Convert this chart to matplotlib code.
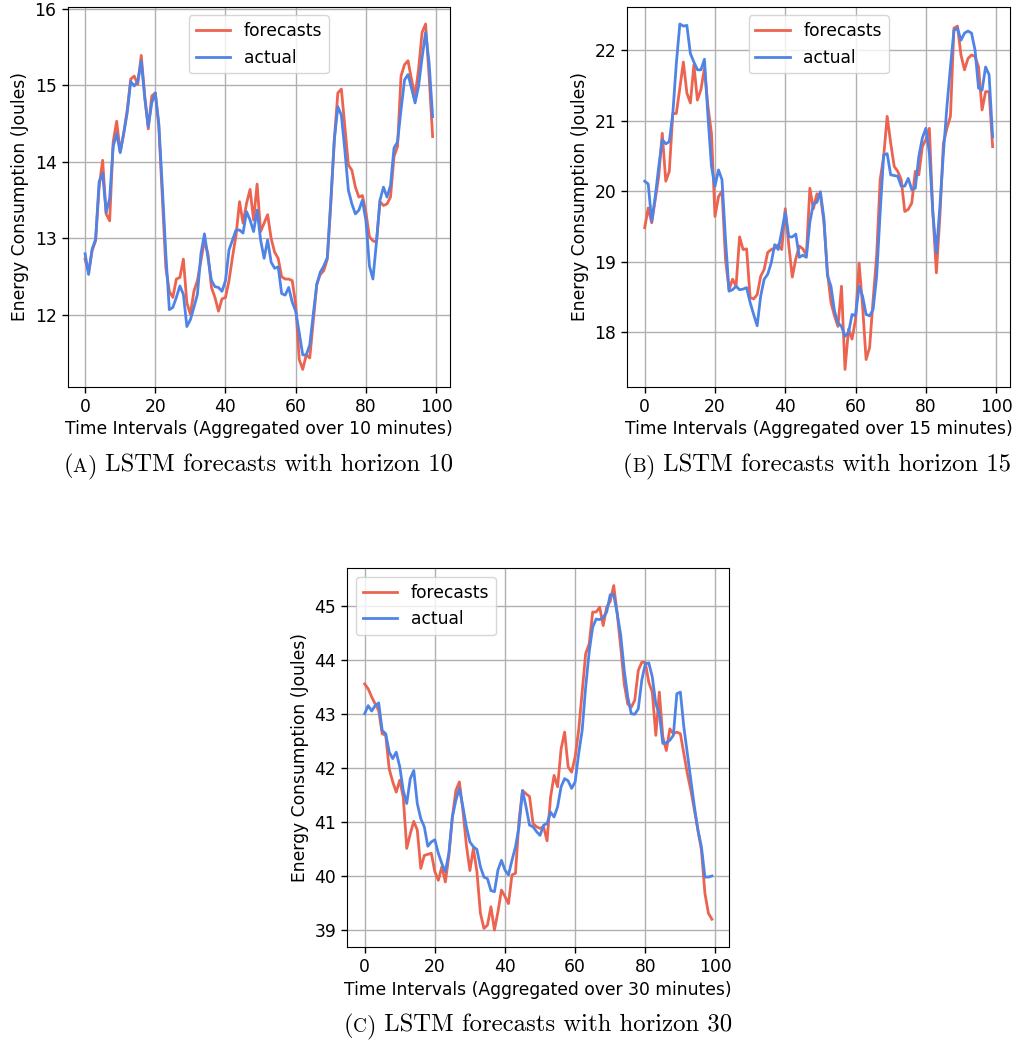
import numpy as np
import matplotlib
matplotlib.use("Agg")
import matplotlib.pyplot as plt

# forecasts vs actual energy use, 100 aggregated intervals per horizon
steps = np.arange(100)

fc_10 = [12.73, 12.56, 12.84, 12.97, 13.67, 14.02, 13.32, 13.23, 14.26, 14.53,
         14.13, 14.37, 14.68, 15.08, 15.12, 15.01, 15.39, 14.86, 14.43, 14.86,
         14.90, 14.46, 13.54, 12.62, 12.31, 12.23, 12.47, 12.49, 12.73, 12.16,
         12.01, 12.31, 12.45, 12.71, 12.97, 12.80, 12.36, 12.23, 12.05, 12.21,
         12.23, 12.45, 12.76, 13.04, 13.48, 13.20, 13.46, 13.64, 13.24, 13.71,
         13.09, 13.20, 13.31, 13.00, 12.82, 12.74, 12.50, 12.47, 12.47, 12.45,
         12.14, 11.42, 11.29, 11.48, 11.44, 11.92, 12.40, 12.53, 12.58, 12.73,
         13.45, 14.29, 14.90, 14.95, 14.46, 13.96, 13.89, 13.67, 13.54, 13.56,
         13.34, 13.02, 12.97, 12.95, 13.48, 13.43, 13.45, 13.54, 14.07, 14.20,
         15.12, 15.27, 15.32, 15.07, 14.86, 15.21, 15.69, 15.80, 15.12, 14.33]
act_10 = [12.80, 12.53, 12.86, 12.99, 13.74, 13.85, 13.34, 13.52, 14.20, 14.37,
          14.12, 14.37, 14.64, 15.05, 14.99, 15.05, 15.32, 14.83, 14.46, 14.77,
          14.90, 14.50, 13.67, 12.80, 12.07, 12.10, 12.23, 12.38, 12.27, 11.85,
          11.94, 12.10, 12.27, 12.80, 13.06, 12.75, 12.45, 12.37, 12.36, 12.31,
          12.45, 12.85, 12.98, 13.11, 13.11, 13.07, 13.35, 13.24, 13.09, 13.37,
          12.98, 12.74, 12.98, 12.69, 12.61, 12.63, 12.28, 12.26, 12.36, 12.17,
          12.05, 11.77, 11.48, 11.48, 11.61, 12.01, 12.40, 12.56, 12.64, 12.75,
          13.50, 14.29, 14.72, 14.61, 14.15, 13.63, 13.45, 13.32, 13.37, 13.50,
          13.23, 12.64, 12.47, 12.95, 13.50, 13.67, 13.54, 13.69, 14.18, 14.26,
          14.68, 15.07, 15.14, 14.96, 14.77, 14.99, 15.36, 15.69, 15.29, 14.59]

fc_15 = [19.48, 19.76, 19.55, 19.88, 20.21, 20.82, 20.14, 20.28, 21.10, 21.10,
         21.46, 21.83, 21.39, 21.25, 21.79, 21.29, 21.44, 21.74, 21.20, 20.82,
         19.64, 19.92, 20.00, 19.03, 18.60, 18.75, 18.65, 19.35, 19.17, 19.18,
         18.49, 18.47, 18.53, 18.79, 18.89, 19.13, 19.17, 19.19, 19.24, 19.17,
         19.75, 19.23, 18.78, 19.04, 19.22, 19.18, 19.09, 20.04, 19.75, 19.96,
         19.94, 19.56, 18.85, 18.42, 18.23, 18.08, 18.65, 17.47, 18.04, 17.90,
         18.18, 18.98, 18.37, 17.61, 17.78, 18.46, 19.08, 20.16, 20.49, 21.06,
         20.68, 20.35, 20.28, 20.16, 19.71, 19.74, 19.83, 20.28, 20.23, 20.63,
         20.73, 20.89, 19.69, 18.84, 19.64, 20.68, 20.89, 21.06, 22.31, 22.34,
         21.93, 21.72, 21.88, 21.93, 21.91, 21.76, 21.15, 21.41, 21.41, 20.63]
act_15 = [20.14, 20.10, 19.57, 19.92, 20.35, 20.73, 20.67, 20.70, 21.10, 21.81,
          22.37, 22.34, 22.35, 21.95, 21.83, 21.72, 21.72, 21.87, 21.06, 20.35,
          20.07, 20.30, 20.16, 19.31, 18.58, 18.60, 18.65, 18.60, 18.61, 18.63,
          18.42, 18.25, 18.09, 18.51, 18.75, 18.82, 18.98, 19.24, 19.17, 19.43,
          19.70, 19.35, 19.35, 19.39, 19.06, 19.09, 19.06, 19.56, 19.82, 19.84,
          19.99, 19.61, 18.80, 18.65, 18.30, 18.13, 18.08, 17.94, 17.99, 18.25,
          18.23, 18.65, 18.51, 18.25, 18.23, 18.32, 18.79, 19.69, 20.51, 20.53,
          20.23, 20.22, 20.21, 20.07, 20.07, 20.18, 20.02, 20.04, 20.49, 20.75,
          20.89, 20.54, 19.69, 19.12, 19.78, 20.54, 21.20, 21.76, 22.28, 22.31,
          22.14, 22.24, 22.27, 22.24, 22.00, 21.46, 21.43, 21.76, 21.65, 20.77]

fc_30 = [43.55, 43.46, 43.31, 43.18, 43.06, 42.63, 42.60, 41.98, 41.74, 41.55,
         41.77, 41.46, 40.51, 40.78, 41.01, 40.85, 40.14, 40.38, 40.40, 40.42,
         40.08, 39.92, 40.17, 39.89, 40.37, 41.09, 41.58, 41.74, 41.22, 40.57,
         40.10, 40.51, 40.08, 39.31, 39.03, 39.09, 39.43, 39.00, 39.34, 39.74,
         39.62, 39.49, 40.02, 40.05, 41.03, 41.58, 41.52, 41.47, 40.97, 40.91,
         40.88, 40.91, 40.65, 41.46, 41.86, 41.65, 42.35, 42.66, 42.02, 41.92,
         42.20, 42.69, 43.40, 44.11, 44.29, 44.88, 44.88, 44.97, 44.63, 44.97,
         45.08, 45.37, 44.85, 44.23, 43.55, 43.18, 43.12, 43.25, 43.80, 43.95,
         43.95, 43.58, 43.40, 42.60, 43.40, 42.57, 42.32, 42.72, 42.63, 42.66,
         42.63, 42.26, 41.89, 41.58, 41.22, 40.85, 40.48, 39.68, 39.31, 39.20]
act_30 = [43.00, 43.15, 43.05, 43.15, 43.20, 42.69, 42.63, 42.29, 42.17, 42.29,
          42.02, 41.58, 41.34, 41.80, 41.95, 41.34, 41.06, 40.91, 40.55, 40.63,
          40.67, 40.42, 40.23, 40.08, 40.42, 41.09, 41.40, 41.62, 41.28, 40.91,
          40.63, 40.54, 40.49, 40.17, 39.98, 39.95, 39.73, 39.71, 40.11, 40.29,
          40.11, 40.02, 40.29, 40.54, 40.91, 41.58, 41.28, 40.94, 40.91, 40.82,
          40.75, 40.94, 40.97, 41.18, 41.09, 41.28, 41.65, 41.80, 41.76, 41.62,
          41.74, 42.26, 42.69, 43.49, 44.14, 44.60, 44.75, 44.74, 44.78, 44.88,
          45.20, 45.20, 44.85, 44.45, 43.80, 43.31, 43.00, 42.99, 43.09, 43.62,
          43.92, 43.94, 43.68, 43.18, 43.00, 42.45, 42.46, 42.51, 42.60, 43.37,
          43.40, 42.75, 42.26, 41.77, 41.28, 40.85, 40.54, 39.98, 39.98, 40.00]

horizons = [10, 15, 30]
letters = ["A", "B", "C"]

RED = "#EC6350"
BLUE = "#4F84E6"
W, H = 1017, 1041
FS = 12.3

fig = plt.figure(figsize=(W / 100, H / 100), dpi=100)

# axes boxes in pixels: left, top, right, bottom
boxes = [(67.7, 6.7, 450.0, 386.7),
         (627.3, 6.7, 1010.0, 386.7),
         (347.3, 568.3, 729.3, 947.3)]
legend_locs = ["upper center", "upper center", "upper left"]
series = [(fc_10, act_10), (fc_15, act_15), (fc_30, act_30)]

for (l, t, r, b), (fc, act), h, loc in zip(boxes, series, horizons, legend_locs):
    ax = fig.add_axes([l / W, 1 - b / H, (r - l) / W, (b - t) / H])
    ax.plot(steps, fc, color=RED, lw=2.0, label="forecasts")
    ax.plot(steps, act, color=BLUE, lw=2.0, label="actual")
    ax.grid(True, color="#b0b0b0", lw=1.0)
    ax.set_axisbelow(True)
    ax.set_xticks([0, 20, 40, 60, 80, 100])
    ax.tick_params(labelsize=FS, length=4.5, width=1)
    ax.set_xlabel("Time Intervals (Aggregated over %d minutes)" % h,
                  fontsize=FS, labelpad=3)
    ax.set_ylabel("Energy Consumption (Joules)", fontsize=FS)
    ax.legend(loc=loc, fontsize=FS, handlelength=2.0)

# captions with a small-caps letter, set in Computer Modern
renderer = fig.canvas.get_renderer()


def caption(cx, cy, letter, rest):
    parts = [("(", 17.8), (letter, 13.8), (")", 17.8), (" " + rest, 17.8)]
    texts = [fig.text(0, 1 - cy / H, s, fontsize=fs, family="cmr10",
                      va="baseline") for s, fs in parts]
    widths = [t.get_window_extent(renderer).width for t in texts]
    x = cx - sum(widths) / 2
    for t, w in zip(texts, widths):
        t.set_x(x / W)
        x += w


caption(258, 472, "A", "LSTM forecasts with horizon 10")
caption(817, 472, "B", "LSTM forecasts with horizon 15")
caption(538, 1032, "C", "LSTM forecasts with horizon 30")

fig.savefig("out.png", dpi=100)
